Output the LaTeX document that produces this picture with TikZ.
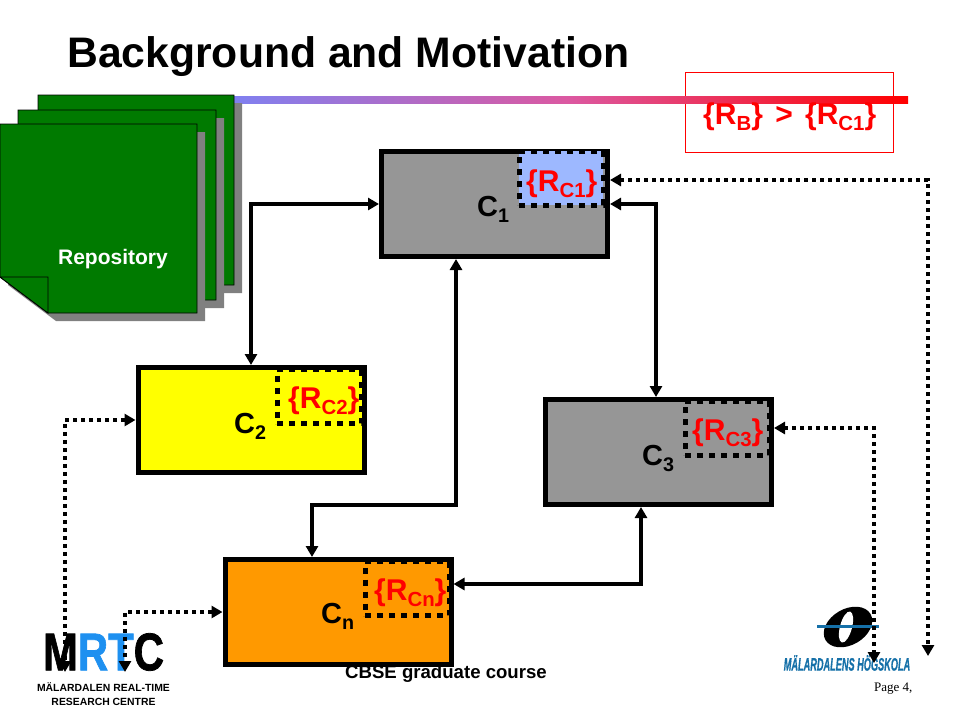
\documentclass[tikz,border=0pt]{standalone}
\usepackage{fontspec}
\setmainfont{Liberation Sans}
\newfontfamily\logofont[FakeBold=1.5]{Liberation Sans Bold}
\newfontfamily\schoolfont[FakeBold=1]{Liberation Sans Bold Italic}
\newfontfamily\pagefont{Liberation Serif}
\usetikzlibrary{arrows.meta}

\definecolor{pageGreen}{HTML}{007A00}
\definecolor{shadowGray}{HTML}{808080}
\definecolor{boxGray}{HTML}{969696}
\definecolor{boxYellow}{HTML}{FFFF00}
\definecolor{boxOrange}{HTML}{FF9900}
\definecolor{regionBlue}{HTML}{9DB8FF}
\definecolor{logoBlue}{HTML}{1E90F0}
\definecolor{schoolBlue}{HTML}{1570A8}
\definecolor{barBlue}{HTML}{8080F0}
\definecolor{barPink}{HTML}{DC58A0}

\newcommand{\fsz}[1]{\fontsize{#1}{#1}\selectfont}
\newcommand{\subtxt}[1]{\raisebox{-0.22em}{\fontsize{0.68em}{0.68em}\selectfont #1}}

\tikzset{
    compbox/.style={draw=black, line width=5pt, inner sep=0pt, minimum width=226pt, minimum height=105pt},
    regionbox/.style={draw=black, line width=5pt, dash pattern=on 6pt off 6pt, inner sep=0pt, minimum width=84pt, minimum height=54pt},
    complabel/.style={anchor=base west, inner sep=0pt, font=\bfseries\fsz{29}},
    regionlabel/.style={anchor=base west, inner sep=0pt, text=red, font=\bfseries\fsz{30}},
    solidlink/.style={line width=4pt, {Triangle[length=11pt,width=12pt]}-{Triangle[length=11pt,width=12pt]}},
    dottedlink/.style={line width=3.5pt, dash pattern=on 4pt off 4pt, {Triangle[length=11pt,width=12pt]}-{Triangle[length=11pt,width=12pt]}},
    page/.style={draw=black, line width=0.8pt, fill=pageGreen}
}

\begin{document}
\begin{tikzpicture}[x=1pt, y=-1pt]
\useasboundingbox (0,0) rectangle (960,720);

% --- Title and gradient bar ---
\node[anchor=base west, inner sep=0pt, font=\bfseries\fsz{42.7}] (title) at (67,67) {Background and Motivation};
\node[draw=red, line width=0.8pt, minimum width=208pt, minimum height=80pt, inner sep=0pt] (ruleBox) at (789,112) {};
\fill[left color=barBlue, right color=red, middle color=barPink] (234,96) rectangle (908,103);
\node[regionlabel] (ruleText) at (703,124) {\{R\subtxt{B}\}\hspace{4pt} > \hspace{4pt}\{R\subtxt{C1}\}};

% --- Repository: three stacked pages ---
\foreach \px/\py/\pw/\ph in {38/95/196/190, 18/110/198/190, 0/124/197/189} {
    \fill[shadowGray] (\px+8,\py+8) -- (\px+\pw+8,\py+8) -- (\px+\pw+8,\py+\ph+8)
        -- (\px+56,\py+\ph+8) -- (\px+8,\py+\ph-28) -- cycle;
    \draw[page] (\px,\py) -- (\px+\pw,\py) -- (\px+\pw,\py+\ph)
        -- (\px+48,\py+\ph) -- (\px,\py+\ph-36) -- cycle;
}
\draw[page] (0,277) -- (48,277) -- (48,313) -- cycle;
\node[inner sep=0pt, text=white, font=\bfseries\fsz{21}] (repo) at (113,259.5) {Repository};

% --- Footer text sits below the boxes ---
\node[inner sep=0pt, font=\bfseries\fsz{18.6}] (course) at (446,673.5) {CBSE graduate course};

% --- Components ---
\node[compbox, fill=boxGray] (C1) at (494.5,204) {};
\node[compbox, fill=boxYellow] (C2) at (251,420) {};
\node[compbox, fill=boxGray] (C3) at (658.5,452) {};
\node[compbox, fill=boxOrange] (Cn) at (338,612) {};

% --- Required regions ---
\node[regionbox, fill=regionBlue] (RC1) at (561,178) {};
\node[regionbox, fill=boxYellow] (RC2) at (319,396.5) {};
\node[regionbox, fill=boxGray] (RC3) at (727,428) {};
\node[regionbox, fill=boxOrange] (RCn) at (407,588.5) {};

\node[complabel] (C1text) at (477,216) {C\subtxt{1}};
\node[complabel] (C2text) at (234,433) {C\subtxt{2}};
\node[complabel] (C3text) at (642,465) {C\subtxt{3}};
\node[complabel] (Cntext) at (321,623) {C\subtxt{n}};

\node[regionlabel] (RC1text) at (526,191) {\{R\subtxt{C1}\}};
\node[regionlabel] (RC2text) at (288,408) {\{R\subtxt{C2}\}};
\node[regionlabel] (RC3text) at (692,440) {\{R\subtxt{C3}\}};
\node[regionlabel] (RCntext) at (374,600) {\{R\subtxt{Cn}\}};

% --- Logos ---
\node[inner sep=0pt, xscale=0.79, font=\logofont\fsz{53}] (mrtc) at (103.5,652) {M\textcolor{logoBlue}{RT}C};
\node[inner sep=0pt, align=center, font=\bfseries\fsz{10.4}] (mrtcName) at (103.5,694) {MÄLARDALEN REAL-TIME\\[3pt]RESEARCH CENTRE};
\fill[black, rotate around={-60:(848,627)}] (848,627) ellipse (18 and 26);
\fill[white, rotate around={-15:(846,627)}] (846,627) ellipse (6 and 16);
\fill[schoolBlue] (817,625) rectangle (879,628);
\node[inner sep=0pt, text=schoolBlue, xscale=0.51, font=\schoolfont\fsz{18}] (school) at (847,663) {MÄLARDALENS HÖGSKOLA};
\node[inner sep=0pt, font=\pagefont\fsz{13}, anchor=base west] (pageNo) at (874,691) {Page 4,};

% --- Connectors between components ---
\coordinate (nBendA) at (456,505);
\coordinate (nBendB) at (312,505);
\draw[solidlink] (C1.west) -| (C2.north);
\draw[solidlink] (C1.east) -| ([xshift=-2.5pt]C3.north);
\draw[solidlink] ([xshift=-38.5pt]C1.south) -- (nBendA) -- (nBendB) -- ([xshift=-26pt]Cn.north);
\draw[solidlink] ([xshift=-17.5pt]C3.south) |- ([yshift=28pt]Cn.east);

% --- Dotted links to the outside ---
\coordinate (farC1) at (928,656);
\coordinate (farC3) at (874,663);
\coordinate (farC2) at (65,672);
\coordinate (farCn) at (125,672);
\draw[dottedlink] ([yshift=24pt]C1.east) -| (farC1);
\draw[dottedlink] ([yshift=24pt]C3.east) -| (farC3);
\draw[dottedlink] (C2.west) -| (farC2);
\draw[dottedlink] (Cn.west) -| (farCn);

\end{tikzpicture}
\end{document}
